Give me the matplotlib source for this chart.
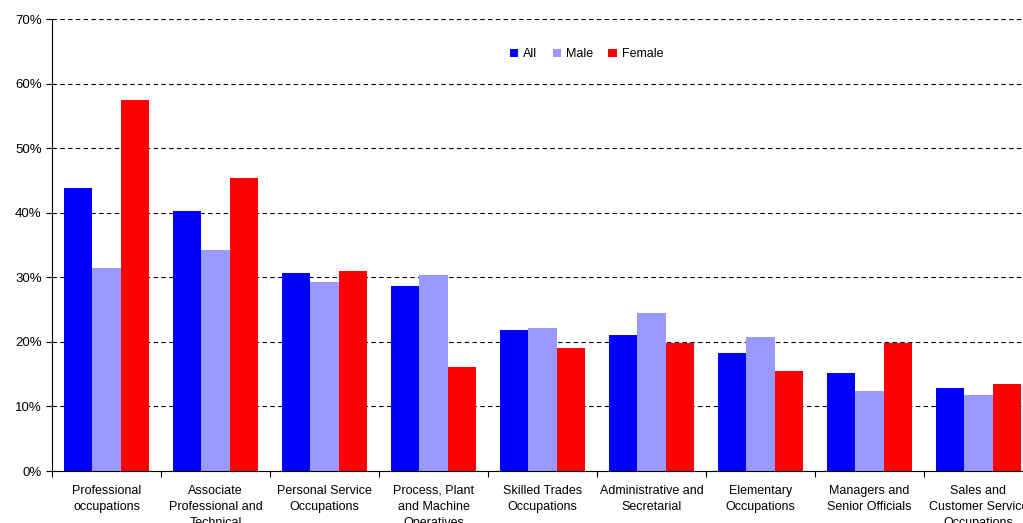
import numpy as np
import matplotlib.pyplot as plt
from matplotlib.ticker import FuncFormatter

plt.rcParams['font.family'] = ['Liberation Sans', 'DejaVu Sans']

categories = ['Professional\noccupations', 'Associate\nProfessional and\nTechnical',
              'Personal Service\nOccupations', 'Process, Plant\nand Machine\nOperatives',
              'Skilled Trades\nOccupations', 'Administrative and\nSecretarial',
              'Elementary\nOccupations', 'Managers and\nSenior Officials',
              'Sales and\nCustomer Service\nOccupations']
all_vals = [43.8, 40.2, 30.6, 28.6, 21.9, 21.0, 18.2, 15.1, 12.9]
male_vals = [31.5, 34.3, 29.2, 30.3, 22.1, 24.4, 20.7, 12.4, 11.8]
female_vals = [57.4, 45.3, 30.9, 16.1, 19.0, 19.9, 15.5, 19.8, 13.5]

fig = plt.figure(figsize=(10.23, 5.23), dpi=100)
ax = fig.add_axes([52/1023, 52/523, 981/1023, 452/523])

x = np.arange(len(categories))
w = 0.26
ax.bar(x - w, all_vals, w, color='#0000ff', label='All')
ax.bar(x, male_vals, w, color='#9999ff', label='Male')
ax.bar(x + w, female_vals, w, color='#ff0000', label='Female')

ax.set_xlim(-0.5, 8.5)
ax.set_ylim(0, 70)
ax.set_yticks(range(0, 71, 10))
ax.yaxis.set_major_formatter(FuncFormatter(lambda v, p: f'{v:.0f}%'))
ax.yaxis.grid(True, linestyle=(0, (4, 3)), color='black', linewidth=0.8)
ax.set_axisbelow(True)
ax.set_xticks(np.arange(-0.5, 9, 1))
ax.set_xticklabels([])
ax.set_xticks(x, minor=True)
ax.set_xticklabels(categories, minor=True, fontsize=9, linespacing=1.45)
ax.tick_params(axis='x', which='minor', length=0, pad=10)
ax.tick_params(axis='x', which='major', length=4)
ax.tick_params(axis='y', labelsize=9.5, length=4)
for s in ['top', 'right']:
    ax.spines[s].set_visible(False)

ax.legend(loc='upper center', bbox_to_anchor=(0.545, 0.96), ncol=3, frameon=False,
          fontsize=9, handlelength=0.7, handleheight=0.7, columnspacing=1.2, handletextpad=0.4)

fig.savefig('out.png', dpi=100)
